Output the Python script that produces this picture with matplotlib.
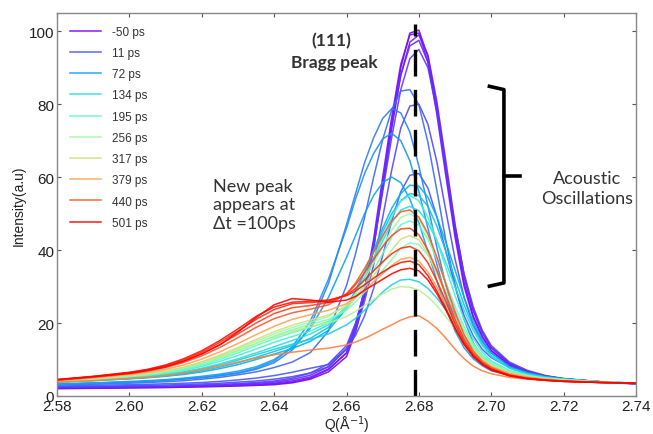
import numpy as np
import matplotlib
matplotlib.use("Agg")
import matplotlib.pyplot as plt

# Q grid (1/Angstrom) shared by all curves
q = [2.580, 2.590, 2.600, 2.605, 2.610, 2.615, 2.620, 2.625, 2.630, 2.635,
     2.640, 2.645, 2.650, 2.655, 2.660, 2.6625, 2.665, 2.6675, 2.670, 2.6725,
     2.675, 2.6775, 2.680, 2.6825, 2.685, 2.6875, 2.690, 2.6925, 2.695, 2.6975,
     2.700, 2.705, 2.710, 2.715, 2.720, 2.730, 2.740]

# pump-probe delays (ps), one per curve
delays = [-50, -40, -30, -20, -10, 0, 11, 26, 42, 57, 72, 88, 103, 118, 134,
          164, 195, 225, 256, 287, 317, 379, 409, 440, 455, 470, 486, 501]

# intensities (a.u.), one row per delay
intensity = [
    [2.0, 2.1, 2.2, 2.25, 2.3, 2.4, 2.5, 2.6, 2.75, 2.9, 3.1, 3.6, 4.6, 6.6, 10.8, 17.5, 27.5, 41, 58, 75, 90, 99.5, 100.3, 93, 79, 62, 45, 31, 22, 16.5, 12.5, 8.5, 6.5, 5.3, 4.6, 3.8, 3.3],
    [2.1, 2.2, 2.3, 2.35, 2.4, 2.5, 2.6, 2.7, 2.85, 3.0, 3.3, 3.8, 4.9, 7.2, 11.8, 19, 29.5, 43, 60, 76.5, 91, 99, 99.5, 91.5, 77, 60, 43.5, 30, 21.5, 16, 12.3, 8.4, 6.5, 5.3, 4.6, 3.8, 3.4],
    [2.2, 2.3, 2.4, 2.45, 2.5, 2.6, 2.7, 2.85, 3.0, 3.2, 3.5, 4.1, 5.2, 7.4, 11.8, 18, 27.5, 40.5, 57, 73.5, 88, 97, 99, 93.5, 80.5, 64, 47, 33, 23.5, 17.5, 13.2, 8.8, 6.7, 5.4, 4.7, 3.9, 3.4],
    [2.3, 2.4, 2.5, 2.55, 2.6, 2.7, 2.85, 3.0, 3.2, 3.45, 3.8, 4.5, 5.7, 8.0, 12.8, 19.5, 29, 42, 58, 74, 88, 96, 97.5, 91.5, 78.5, 62, 46, 32.5, 23.5, 17.5, 13.3, 9, 6.8, 5.5, 4.7, 3.9, 3.4],
    [2.4, 2.5, 2.6, 2.65, 2.7, 2.8, 3.0, 3.2, 3.4, 3.7, 4.1, 4.9, 6.3, 8.8, 13.8, 20, 29, 41, 56, 71, 84, 92.5, 95, 90, 78, 62, 46.5, 33.5, 24.5, 18, 13.8, 9.3, 7, 5.6, 4.8, 3.9, 3.4],
    [2.5, 2.6, 2.8, 2.9, 3.0, 3.15, 3.3, 3.5, 3.8, 4.1, 4.6, 5.3, 6.3, 8, 13, 18, 26, 36, 49, 62, 73.5, 79.5, 80, 74.5, 64, 50.5, 37.5, 27, 19.5, 15, 11.8, 8.3, 6.5, 5.4, 4.7, 3.9, 3.4],
    [2.7, 2.9, 3.1, 3.2, 3.35, 3.5, 3.7, 4.0, 4.4, 4.9, 5.6, 6.5, 7.6, 8.6, 13, 16.6, 22, 29.5, 38.5, 48, 56, 60.5, 61, 57, 49, 39.5, 30, 22, 16.5, 12.8, 10.5, 7.8, 6.2, 5.2, 4.6, 3.9, 3.4],
    [3.0, 3.2, 3.5, 3.7, 3.9, 4.2, 4.6, 5.1, 5.8, 6.6, 7.8, 9.3, 11.9, 17.8, 30.3, 39, 49, 60, 70.3, 78.5, 83.6, 84, 79.8, 69.5, 56.2, 42.3, 30.5, 21, 14.6, 10.5, 8.2, 6.3, 5.4, 4.8, 4.4, 3.8, 3.4],
    [3.2, 3.5, 3.8, 4.0, 4.3, 4.6, 5.0, 5.5, 6.2, 7.3, 9.1, 12.6, 19.1, 30.8, 47, 55.5, 64, 70.8, 76.1, 78.8, 77.6, 72.4, 63, 52, 40.6, 30.3, 21.9, 15.7, 11.5, 9, 7.2, 5.8, 5.1, 4.6, 4.3, 3.8, 3.4],
    [3.2, 3.5, 3.8, 4.0, 4.3, 4.7, 5.1, 5.7, 6.4, 7.6, 9.6, 13.5, 20.5, 32, 46, 54, 61, 66.5, 70.5, 72, 70, 64.5, 56, 46, 36, 27, 19.8, 14.5, 10.8, 8.6, 7.0, 5.7, 5.0, 4.5, 4.2, 3.8, 3.4],
    [3.3, 3.6, 4.0, 4.2, 4.5, 4.9, 5.4, 6.0, 6.8, 8.0, 10, 13.2, 18.5, 27, 38, 44, 50, 55, 58.5, 60, 58.5, 54, 47.5, 39.5, 31.5, 24, 17.8, 13.2, 10.2, 8.3, 6.9, 5.7, 5.0, 4.5, 4.2, 3.8, 3.4],
    [3.8, 4.2, 4.7, 5.0, 5.4, 5.9, 6.6, 7.5, 8.6, 10, 11.5, 13, 15, 18, 24, 28.5, 34, 40, 46, 51.5, 55.5, 57.8, 57.5, 54.5, 49, 42, 34.5, 27, 20.5, 15.3, 11.8, 8, 6.3, 5.3, 4.7, 3.9, 3.5],
    [3.9, 4.3, 4.8, 5.1, 5.5, 6.1, 6.9, 7.9, 9.1, 10.6, 12.2, 13.8, 15.8, 18.8, 24.5, 29, 34, 39.5, 45, 50, 53.5, 55.5, 55, 52, 46.5, 39.5, 32, 25, 19, 14.3, 11.1, 7.7, 6.1, 5.2, 4.6, 3.9, 3.5],
    [3.8, 4.3, 4.9, 5.3, 5.8, 6.5, 7.4, 8.5, 9.8, 11.3, 12.8, 14.2, 15.5, 17, 19.5, 21.3, 23.5, 26, 28.5, 30.5, 31.8, 32, 31.3, 29.5, 26.8, 23.5, 20, 16.5, 13.3, 10.7, 8.8, 6.6, 5.5, 4.8, 4.4, 3.8, 3.5],
    [3.9, 4.4, 5.0, 5.4, 5.9, 6.6, 7.6, 8.8, 10.2, 11.8, 13.5, 15.2, 17, 19.5, 24.5, 28, 32.5, 37.5, 42.5, 47.5, 51, 52, 50.8, 47.5, 42.5, 36.5, 30, 23.5, 18, 13.8, 10.8, 7.6, 6.0, 5.1, 4.6, 3.9, 3.5],
    [4.0, 4.5, 5.2, 5.6, 6.2, 7.0, 8.1, 9.5, 11.1, 12.9, 14.7, 16.3, 17.8, 20, 24.5, 28, 32.5, 38, 43.5, 49, 53.5, 55, 53.5, 49, 42.5, 35, 27.5, 21, 15.8, 12, 9.6, 7, 5.7, 4.9, 4.5, 3.9, 3.5],
    [4.0, 4.6, 5.3, 5.8, 6.4, 7.3, 8.5, 10, 11.8, 13.8, 15.7, 17.4, 18.8, 20.5, 24, 27, 30.5, 34.5, 39, 43.5, 47, 48, 46.8, 43, 37.5, 31, 24.5, 19, 14.5, 11.2, 9.1, 6.8, 5.6, 4.9, 4.5, 3.9, 3.5],
    [4.0, 4.6, 5.4, 5.9, 6.6, 7.5, 8.8, 10.4, 12.3, 14.4, 16.4, 18.2, 19.6, 21, 23.5, 25.8, 28.5, 31.5, 34.5, 37.5, 40.5, 42, 41.5, 38.5, 34, 28.5, 23, 18, 14, 11, 9, 6.7, 5.5, 4.8, 4.4, 3.8, 3.5],
    [4.2, 4.8, 5.6, 6.1, 6.8, 7.8, 9.2, 10.9, 12.9, 15, 17, 18.8, 20.2, 21.8, 25, 28, 32, 36.5, 41, 45.5, 49, 50, 48.5, 44, 37.5, 30.5, 23.5, 17.8, 13.5, 10.5, 8.6, 6.5, 5.4, 4.7, 4.3, 3.8, 3.5],
    [4.2, 4.8, 5.6, 6.1, 6.8, 7.8, 9.1, 10.7, 12.5, 14.4, 16.2, 17.8, 19, 20, 21.8, 23.2, 24.8, 26.5, 28, 29.3, 30, 29.8, 29, 27.2, 24.7, 21.7, 18.5, 15.3, 12.4, 10.1, 8.4, 6.4, 5.3, 4.6, 4.3, 3.8, 3.5],
    [4.1, 4.8, 5.6, 6.2, 6.9, 7.9, 9.4, 11.2, 13.3, 15.5, 17.6, 19.4, 20.8, 22.2, 24.5, 27, 29.8, 33, 36.5, 40, 43, 44, 42.8, 39, 33.5, 27.5, 21.5, 16.5, 12.8, 10, 8.3, 6.4, 5.3, 4.7, 4.3, 3.8, 3.5],
    [4.3, 5.0, 5.9, 6.5, 7.3, 8.5, 10.1, 12.1, 14.4, 16.8, 19.1, 21, 22.3, 23.5, 25.3, 27, 29, 31.3, 33.5, 35.8, 37.5, 38, 37, 34, 29.8, 25, 20, 15.6, 12.2, 9.7, 8, 6.2, 5.2, 4.6, 4.2, 3.8, 3.5],
    [3.8, 4.2, 4.8, 5.1, 5.6, 6.3, 7.2, 8.2, 9.3, 10.4, 11.3, 12, 12.6, 13.1, 14, 14.8, 15.8, 17, 18.3, 19.5, 20.8, 21.7, 22, 20.5, 18.5, 15.8, 12.8, 10.2, 8.2, 6.9, 6.1, 5.1, 4.6, 4.3, 4.1, 3.7, 3.5],
    [4.3, 5.1, 6.1, 6.8, 7.8, 9.2, 11, 13.3, 16, 18.8, 21.2, 22.8, 23.8, 25, 28, 31, 35, 39.5, 44, 48, 50.5, 51, 49, 44.5, 38, 30.5, 23, 16.8, 12.3, 9.5, 7.8, 5.8, 4.9, 4.4, 4.1, 3.7, 3.5],
    [4.4, 5.2, 6.3, 7.0, 8.1, 9.6, 11.6, 14.1, 17, 20, 22.6, 24.2, 24.8, 25.6, 28, 30.5, 33.8, 37.5, 41, 44, 45.8, 46, 44.2, 40, 34.3, 27.7, 21, 15.5, 11.6, 9.1, 7.5, 5.7, 4.9, 4.4, 4.1, 3.7, 3.5],
    [4.4, 5.3, 6.4, 7.2, 8.3, 9.9, 12, 14.7, 17.8, 21, 23.7, 25.3, 25.6, 26, 27.7, 29.5, 31.8, 34.3, 36.8, 39, 40.5, 41, 39.8, 36.5, 31.5, 25.8, 19.8, 14.8, 11.2, 8.8, 7.3, 5.6, 4.8, 4.3, 4.0, 3.7, 3.5],
    [4.5, 5.4, 6.5, 7.3, 8.5, 10.2, 12.4, 15.2, 18.4, 21.8, 24.4, 25.7, 26, 26.3, 27.5, 28.8, 30.5, 32.3, 34, 35.5, 36.6, 37, 36, 33, 28.7, 23.8, 18.6, 14.1, 10.8, 8.6, 7.1, 5.5, 4.7, 4.3, 4.0, 3.7, 3.5],
    [4.5, 5.3, 6.2, 7.0, 8.0, 9.5, 11.5, 14, 17.5, 21.5, 25, 26.7, 26.3, 25.7, 26.3, 27.3, 29, 30.5, 32, 33.5, 34.6, 35, 34.3, 31.8, 28, 23.5, 18.5, 14.2, 11, 8.8, 7.3, 5.6, 4.8, 4.3, 4.0, 3.7, 3.5],
]

legend_delays = [-50, 11, 72, 134, 195, 256, 317, 379, 440, 501]
bragg_q = 2.679

plt.rcParams["font.family"] = ["Liberation Sans", "DejaVu Sans"]

fig = plt.figure(figsize=(6.53, 4.35), dpi=100)
ax = fig.add_axes([0.0873, 0.0874, 0.8867, 0.8804])

cmap = plt.get_cmap("rainbow")
tmin, tmax = min(delays), max(delays)
handles = {}
for t, row in zip(delays, intensity):
    color = cmap((t - tmin) / (tmax - tmin))
    line, = ax.plot(q, row, color=color, lw=1.1, alpha=0.9, solid_joinstyle="round")
    if t in legend_delays:
        handles[t] = line

leg = ax.legend([handles[t] for t in legend_delays],
                [f"{t} ps" for t in legend_delays],
                loc="upper left", frameon=False, fontsize=8.5,
                handlelength=2.6, handletextpad=1.0, labelspacing=0.78,
                borderaxespad=0.3, bbox_to_anchor=(0.008, 0.988))
for txt in leg.get_texts():
    txt.set_color("#333333")

# Bragg peak position
ax.plot([bragg_q, bragg_q], [0, 102], color="black", lw=2.4, dashes=(8, 4))

ax.set_xlim(2.58, 2.74)
ax.set_ylim(0, 105)
xt = np.arange(2.58, 2.741, 0.02)
ax.set_xticks(xt)
ax.set_xticklabels([f"{v:.2f}" for v in xt])
ax.set_yticks([0, 20, 40, 60, 80, 100])
ax.tick_params(direction="in", top=True, right=True, length=3,
               labelsize=11, colors="#555555", labelcolor="#222222", pad=2)
for s in ax.spines.values():
    s.set_color("#888888")
    s.set_linewidth(1.0)

ax.set_xlabel(r"Q($\mathrm{\AA^{-1}}$)", fontsize=10, color="#222222", labelpad=1)
ax.set_ylabel("Intensity(a.u)", fontsize=10, color="#222222", labelpad=2)

# annotations
ann = dict(family=["Lato", "DejaVu Sans"], color="#333333")
ax.text(2.6557, 97.5, "(111)", ha="center", va="center", fontsize=12.5,
        fontweight="bold", **ann)
ax.text(2.6565, 91.5, "Bragg peak", ha="center", va="center", fontsize=12.5,
        fontweight="bold", **ann)
ax.text(2.6232, 52.5, "New peak\nappears at\n\u0394t =100ps", ha="left", va="center",
        fontsize=13, linespacing=1.2, **ann)
ax.text(2.7265, 57.0, "Acoustic\nOscillations", ha="center", va="center",
        fontsize=13, linespacing=1.25, **ann)

# bracket
ax.plot([2.699, 2.7035, 2.7035, 2.699], [85, 84, 31, 30], color="black", lw=2.6,
        solid_joinstyle="round", solid_capstyle="butt")
ax.plot([2.7035, 2.708], [60.4, 60.4], color="black", lw=2.6)

fig.savefig("out.png", dpi=100)
